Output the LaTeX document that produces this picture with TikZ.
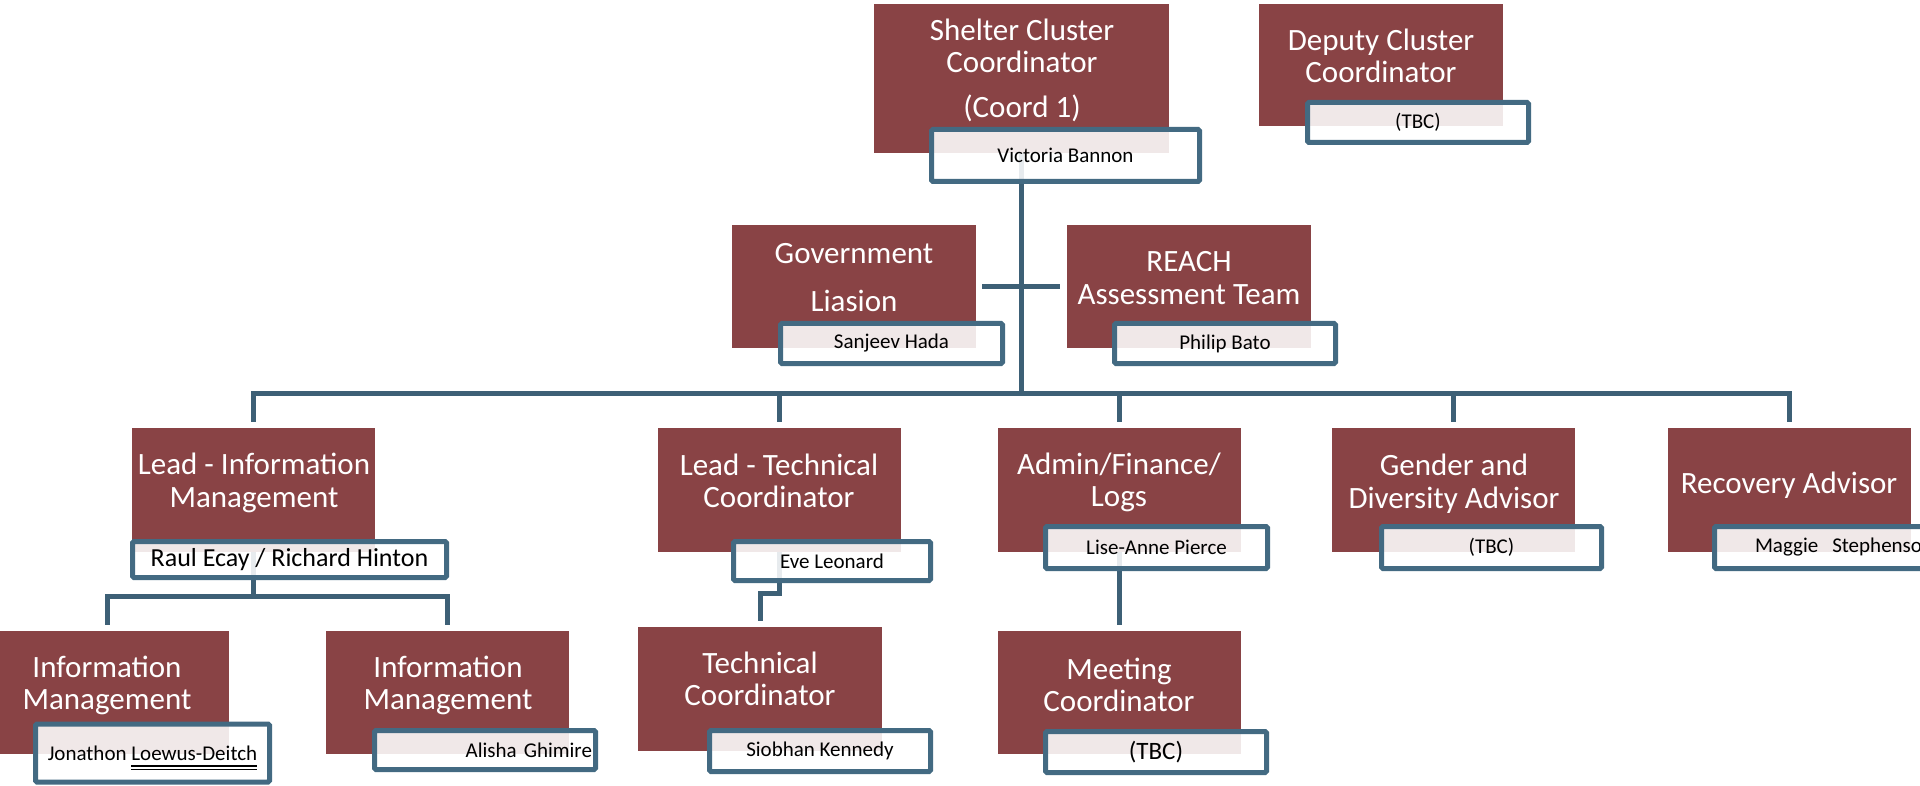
\documentclass[tikz,border=0pt]{standalone}
\usepackage{fontspec}
\setmainfont{Carlito}
\usetikzlibrary{calc,backgrounds}
\definecolor{redc}{RGB}{137,67,69}
\definecolor{bluec}{RGB}{67,106,130}
\definecolor{connc}{RGB}{61,96,118}
\newcommand\dblunder[1]{\setbox0\hbox{#1}\leavevmode\rlap{\smash{\rule[-6.6pt]{\wd0}{1.7pt}}}\rlap{\smash{\rule[-10pt]{\wd0}{1.7pt}}}\box0}
\begin{document}
\begin{tikzpicture}[x=1pt,y=-1pt,
 rbox/.style={fill=redc, inner sep=0pt, anchor=north west},
 title/.style={text=white, align=center, font=\fontsize{31}{32.5}\selectfont, inner sep=0pt},
 nbox/.style={draw=bluec, line width=5pt, fill=white, fill opacity=0.88, text opacity=1, inner sep=0pt, rounded corners=1.5pt, font=\fontsize{21}{24}\selectfont, align=center},
 conn/.style={draw=connc, line width=5pt},
]
\useasboundingbox (0,0) rectangle (1920,786);
\clip (0,0) rectangle (1920,786);

% red boxes
\node[rbox, minimum width=295pt, minimum height=149pt] (shelter) at (874,4) {};
\node[rbox, minimum width=244pt, minimum height=122pt] (deputy) at (1259,4) {};
\node[rbox, minimum width=244pt, minimum height=123pt] (gov) at (732,225) {};
\node[rbox, minimum width=244pt, minimum height=123pt] (reach) at (1067,225) {};
\node[rbox, minimum width=243pt, minimum height=124pt] (leadinfo) at (132,428) {};
\node[rbox, minimum width=243pt, minimum height=124pt] (leadtech) at (658,428) {};
\node[rbox, minimum width=243pt, minimum height=124pt] (admin) at (998,428) {};
\node[rbox, minimum width=243pt, minimum height=124pt] (gender) at (1332,428) {};
\node[rbox, minimum width=243pt, minimum height=124pt] (recovery) at (1668,428) {};
\node[rbox, minimum width=244pt, minimum height=123pt] (info1) at (-15,631) {};
\node[rbox, minimum width=243pt, minimum height=123pt] (info2) at (326,631) {};
\node[rbox, minimum width=244pt, minimum height=124pt] (tech) at (638,627) {};
\node[rbox, minimum width=243pt, minimum height=123pt] (meeting) at (998,631) {};

% titles
\node[title] (shelterT) at (1022,70.5) {Shelter Cluster\\Coordinator\\[12.5pt](Coord 1)};
\node[title] (deputyT) at (1381,56) {Deputy Cluster\\Coordinator};
\node[title] (govT) at (854,278) {Government\\[15.5pt]Liasion};
\node[title] (reachT) at (1189,278) {REACH\\Assessment Team};
\node[title] (leadinfoT) at (254,483) {Lead - Information\\Management};
\node[title] (leadtechT) at (779,481) {Lead - Technical\\Coordinator};
\node[title] (adminT) at (1119,482.5) {Admin/Finance/\\Logs};
\node[title] (genderT) at (1454,483.5) {Gender and\\Diversity Advisor};
\node[title] (recoveryT) at (1789,485.5) {Recovery Advisor};
\node[title] (info1T) at (107,685.5) {Information\\Management};
\node[title] (info2T) at (448,685.5) {Information\\Management};
\node[title] (techT) at (760,679) {Technical\\Coordinator};
\node[title] (meetingT) at (1119,685) {Meeting\\Coordinator};

% name boxes
\node[nbox, minimum width=268pt, minimum height=52pt] (victoria) at (1065.5,155.5) {Victoria Bannon};
\node[nbox, minimum width=221pt, minimum height=40pt] (tbcd) at (1418,122.5) {(TBC)};
\node[nbox, minimum width=222pt, minimum height=40pt] (sanjeev) at (891.5,343.5) {Sanjeev Hada};
\node[nbox, minimum width=221pt, minimum height=40pt] (philip) at (1225,343.5) {Philip Bato};
\node[nbox, minimum width=314pt, minimum height=36pt, font=\fontsize{26}{30}\selectfont] (raul) at (289.5,559.5) {Raul Ecay / Richard Hinton};
\node[nbox, minimum width=197pt, minimum height=39pt] (eve) at (832,561) {Eve Leonard};
\node[nbox, minimum width=222pt, minimum height=42pt] (lise) at (1156.5,547.5) {Lise-Anne Pierce};
\node[nbox, minimum width=220pt, minimum height=42pt] (tbcg) at (1491.5,547.5) {(TBC)};
\node[nbox, minimum width=240pt, minimum height=42pt, text width=225pt, align=left] (maggie) at (1834.5,547.5) {\hspace*{33pt}Maggie\ \ Stephenson};
\node[nbox, minimum width=234pt, minimum height=58pt] (jonathon) at (152.5,753) {Jonathon \dblunder{Loewus-Deitch}};
\node[nbox, minimum width=221pt, minimum height=39pt, text width=214pt, align=right] (alisha) at (485,750) {Alisha Ghimire};
\node[nbox, minimum width=221pt, minimum height=41pt] (siobhan) at (820,751) {Siobhan Kennedy};
\node[nbox, minimum width=221pt, minimum height=41pt, font=\fontsize{25}{30}\selectfont] (tbcm) at (1156,752) {(TBC)};

% connectors
\begin{scope}[on background layer]
\coordinate (hub) at (shelter.south |- 0,393);
\draw[conn] (shelter.center) -- (hub);
\draw[conn, shorten <=6pt, shorten >=7pt] (gov.east) -- (gov.east -| reach.west);
\draw[conn, shorten >=6pt] (hub) -| (leadinfo.north);
\draw[conn, shorten >=6pt] (hub) -| (leadtech.north);
\draw[conn, shorten >=6pt] (hub) -| (admin.north);
\draw[conn, shorten >=6pt] (hub) -| (gender.north);
\draw[conn, shorten >=6pt] (hub) -| (recovery.north);
\coordinate (imJ) at (leadinfo.center |- 0,596);
\draw[conn] (leadinfo.center) -- (imJ);
\draw[conn, shorten >=6pt] (imJ) -| (info1.north);
\draw[conn, shorten >=6pt] (imJ) -| (info2.north);
\coordinate (tcJ) at (leadtech.center |- 0,593);
\draw[conn, shorten >=6pt] (leadtech.center) -- (tcJ) -| (tech.north);
\draw[conn, shorten >=6pt] (admin.center) -- (meeting.north);
\end{scope}
\end{tikzpicture}
\end{document}
